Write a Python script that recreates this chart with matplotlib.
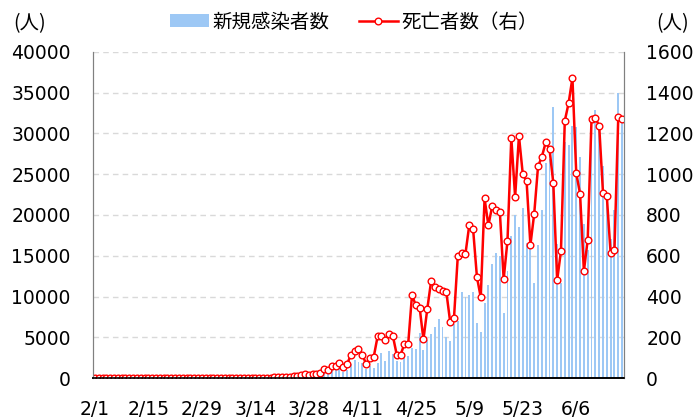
import numpy as np
import pandas as pd
import matplotlib
matplotlib.use("Agg")
from matplotlib import pyplot as plt

dates = pd.date_range("2020-02-01", "2020-06-18", freq="D")

new_cases_feb = [0] * 26 + [1, 0, 0]
new_cases_mar = [1, 0, 0, 0, 1, 5, 5, 6, 6, 5, 4, 18, 25, 21, 23, 79, 34, 57, 137, 193,
                 283, 224, 418, 345, 310, 232, 482, 502, 487, 352, 323]
new_cases_apr = [1138, 1119, 1208, 1012, 1304, 770, 926, 1661, 2210, 1930, 1781, 1089,
                 1442, 1261, 1832, 3058, 2105, 3257, 2917, 2055, 1927, 2498, 2678, 3735,
                 3503, 5514, 3379, 4613, 5385, 6276]
new_cases_may = [7218, 6209, 4970, 4588, 6633, 6935, 10503, 9888, 10222, 10611, 6760, 5632,
                 9258, 11385, 13944, 15305, 14919, 7938, 13140, 17408, 19951, 18508, 20803,
                 16508, 15813, 11687, 16324, 20599, 26417, 26928, 33274]
new_cases_jun = [16409, 11598, 28936, 28633, 30925, 30830, 27075, 18912, 15654, 32091,
                 32913, 30412, 25982, 21704, 17110, 20647, 34918, 32188]

deaths_feb = [0] * 29
deaths_mar = [0] * 17 + [1, 3, 3, 4, 7, 7, 9, 12, 13, 18, 15, 22, 22, 23]
deaths_apr = [42, 40, 58, 60, 73, 54, 67, 114, 133, 141, 115, 68, 99, 105, 204, 204, 188,
              217, 206, 115, 113, 166, 165, 407, 357, 346, 189, 338, 474, 449]
deaths_may = [435, 428, 421, 275, 296, 600, 615, 610, 751, 730, 496, 396, 881, 749, 844,
              824, 816, 485, 674, 1179, 888, 1188, 1001, 965, 653, 807, 1039, 1086, 1156,
              1124, 956]
deaths_jun = [480, 623, 1262, 1349, 1473, 1005, 904, 525, 679, 1272, 1274, 1239, 909, 892,
              612, 627, 1282, 1269]

new_cases = new_cases_feb + new_cases_mar + new_cases_apr + new_cases_may + new_cases_jun
deaths = deaths_feb + deaths_mar + deaths_apr + deaths_may + deaths_jun

date_labels = [f"{d.month}/{d.day}" for d in dates]
jp = "Noto Sans CJK JP"

fig = plt.figure(figsize=(6.96, 4.19), dpi=100)
ax1 = fig.add_axes([93 / 696, 41 / 419, 531 / 696, 326 / 419])
ax2 = ax1.twinx()

x = np.arange(len(dates))
bars = ax1.bar(x, new_cases, width=0.5, color="#9dc8f5", label="新規感染者数", zorder=2)
line, = ax2.plot(x, deaths, color="#ff0000", lw=1.8, marker="o", markersize=4.8,
                 markerfacecolor="white", markeredgecolor="#ff0000", markeredgewidth=1,
                 label="死亡者数（右）")

ax1.set_xlim(-0.5, len(dates) - 0.5)
ax1.set_ylim(0, 40000)
ax2.set_ylim(0, 1600)
ax1.set_yticks(np.arange(0, 40001, 5000))
ax2.set_yticks(np.arange(0, 1601, 200))
ax1.set_xticks(x[::14])
ax1.set_xticklabels(date_labels[::14])

ax1.set_axisbelow(True)
ax1.yaxis.grid(True, linestyle=(0, (4, 3)), color="#d9d9d9", lw=1)
for ax in (ax1, ax2):
    ax.tick_params(length=0, pad=16, labelsize=13.5)
    ax.spines["top"].set_visible(False)
    ax.spines["left"].set_color("#808080")
    ax.spines["right"].set_color("#808080")
    ax.spines["bottom"].set_color("black")
    ax.spines["bottom"].set_linewidth(1.2)

fig.text(30 / 696, 1 - 24 / 419, "(人)", family=jp, fontsize=14, ha="center", va="center")
fig.text(673 / 696, 1 - 24 / 419, "(人)", family=jp, fontsize=14, ha="center", va="center")

fig.legend(handles=[bars, line], loc="center", bbox_to_anchor=(354 / 696, 1 - 22 / 419),
           ncol=2, frameon=False, prop={"family": jp, "size": 14},
           handlelength=2.0, handletextpad=0.2, columnspacing=1.5)

fig.savefig("out.png", dpi=100)
